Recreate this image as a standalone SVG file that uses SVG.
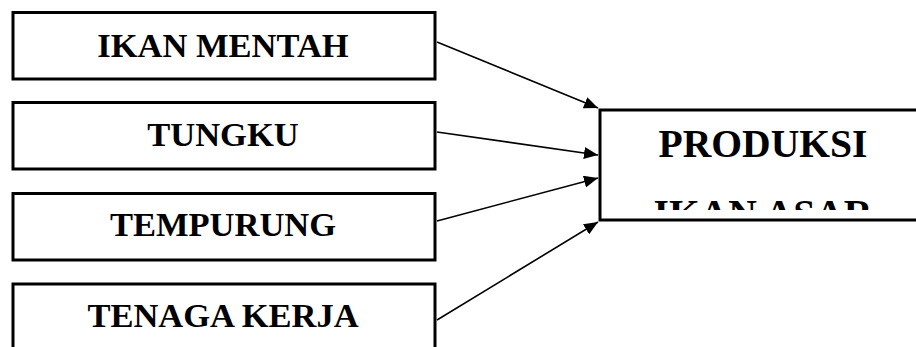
<svg xmlns="http://www.w3.org/2000/svg" width="916" height="347" viewBox="0 0 916 347">
<style>
.box{fill:#fff;stroke:#000;stroke-width:3}
.lbl{font-family:"Liberation Serif","Times New Roman",serif;font-weight:bold;font-size:34.5px;fill:#000;text-anchor:middle}
.big{font-size:39.6px}
.conn{stroke:#000;stroke-width:1.6;fill:none;marker-end:url(#ah)}
</style>
<defs>
<marker id="ah" viewBox="0 0 14 12" refX="14" refY="6" markerWidth="14" markerHeight="12" markerUnits="userSpaceOnUse" orient="auto">
<path d="M0,0 L14,6 L0,12 Z" fill="#000"/>
</marker>
<clipPath id="clipP"><rect x="600" y="112" width="316" height="98"/></clipPath>
</defs>
<rect width="916" height="347" fill="#fff"/>
<g id="n1"><rect class="box" x="13" y="12.5" width="422" height="66.5"/><text class="lbl" x="223" y="57">IKAN MENTAH</text></g>
<g id="n2"><rect class="box" x="13" y="102.5" width="422" height="66.5"/><text class="lbl" x="223" y="146">TUNGKU</text></g>
<g id="n3"><rect class="box" x="13" y="193.5" width="422" height="66.5"/><text class="lbl" x="223" y="236">TEMPURUNG</text></g>
<g id="n4"><rect class="box" x="13" y="284" width="422" height="80"/><text class="lbl" x="223" y="327">TENAGA KERJA</text></g>
<g id="n5"><path d="M920,110 L600,110 L600,220 L920,220" fill="#fff" stroke="#000" stroke-width="3"/>
<text class="lbl big" x="763" y="157">PRODUKSI</text>
<g clip-path="url(#clipP)"><text class="lbl big" x="763" y="227">IKAN ASAR</text></g></g>
<g id="connectors">
<line class="conn" x1="437" y1="42" x2="598" y2="108"/>
<line class="conn" x1="437" y1="132" x2="598" y2="155"/>
<line class="conn" x1="437" y1="221" x2="598" y2="178"/>
<line class="conn" x1="437" y1="320" x2="598" y2="222"/>
</g>
</svg>
